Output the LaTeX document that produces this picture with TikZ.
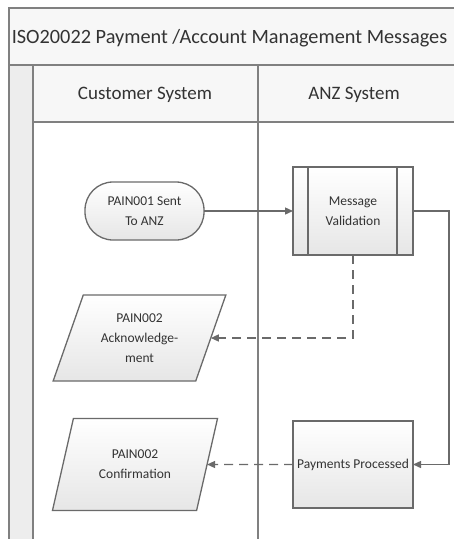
\documentclass[tikz,border=0pt]{standalone}
\usepackage{fontspec}
\setmainfont{Carlito}
\usetikzlibrary{shapes.geometric,arrows.meta}
\definecolor{linegray}{HTML}{808080}
\definecolor{boxgray}{HTML}{6A6A6A}
\definecolor{fillgray}{HTML}{E6E6E6}
\definecolor{textgray}{HTML}{333333}
\definecolor{bandgray}{HTML}{F7F7F7}
\definecolor{stripgray}{HTML}{EDEDED}
\begin{document}
\begin{tikzpicture}[x=1pt,y=-1pt,
  frame/.style={draw=linegray, line width=1.1pt},
  box/.style={draw=boxgray, line width=1.3pt, top color=white, bottom color=fillgray,
    text=textgray, font=\fontsize{13.5}{20}\selectfont, align=center,
    inner sep=0pt, outer sep=0pt},
  terminal/.style={box, rectangle, rounded corners=28pt, minimum width=119pt, minimum height=58pt},
  procbox/.style={box, rectangle, minimum width=120pt, minimum height=88pt},
  iobox/.style={box, trapezium, trapezium left angle=67, trapezium right angle=113,
    trapezium stretches=true, minimum width=170pt, minimum height=88pt},
  headtext/.style={text=textgray, inner sep=0pt},
  flow/.style={draw=boxgray, line width=1.4pt, -{Triangle[length=8pt,width=7pt]}},
  dflow/.style={flow, dash pattern=on 9pt off 6pt}
]
\useasboundingbox (0,0) rectangle (454,539);
% swimlane frame
\fill[bandgray] (9,8) rectangle (454,65);
\fill[bandgray] (33,65) rectangle (454,122);
\fill[stripgray] (9,65) rectangle (33,539);
\draw[frame] (454,8) -- (9,8) -- (9,539);
\draw[frame] (9,65) -- (454,65);
\draw[frame] (33,122) -- (454,122);
\draw[frame] (33,65) -- (33,539);
\draw[frame] (258,65) -- (258,539);
\node[headtext, font=\fontsize{20.3}{24}\selectfont] (title) at (229.5,38) {ISO20022 Payment /Account Management Messages};
\node[headtext, font=\fontsize{19}{22}\selectfont] (cust) at (145,95) {Customer System};
\node[headtext, font=\fontsize{19}{22}\selectfont] (anz) at (354,95) {ANZ System};
% nodes
\node[terminal] (sent) at (144.5,211) {PAIN001 Sent\\To ANZ};
\node[procbox] (mv) at (353,211) {Message\\Validation};
\draw[draw=boxgray, line width=1.3pt] ([xshift=15pt]mv.north west) -- ([xshift=15pt]mv.south west)
  ([xshift=-16pt]mv.north east) -- ([xshift=-16pt]mv.south east);
\node[iobox, minimum width=173pt, minimum height=86pt] (ack) at (139.5,338) {PAIN002\\Acknowledge-\\ment};
\node[procbox, minimum height=87pt] (pp) at (353,464.5) {Payments Processed};
\node[iobox, minimum width=166pt, minimum height=92pt] (conf) at (135,464.5) {PAIN002\\Confirmation};
% connectors
\draw[flow] (sent.east) -- (mv.west);
\draw[flow] (mv.east) -- ++(36,0) |- (pp.east);
\draw[dflow] (mv.south) |- (ack.east);
\draw[dflow] (pp.west) -- (conf.east);
\end{tikzpicture}
\end{document}
